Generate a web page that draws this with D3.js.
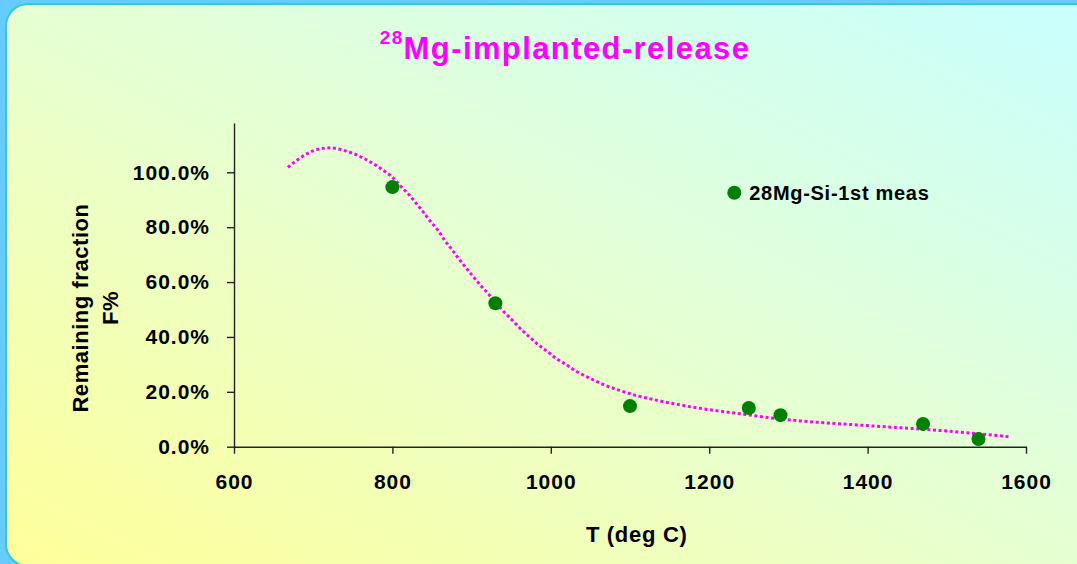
<!DOCTYPE html>
<html lang="en">
<head>
<meta charset="UTF-8">
<title>28Mg-implanted-release</title>
<script src="https://d3js.org/d3.v7.min.js"></script>
<style>
  html, body { margin: 0; padding: 0; background: #66ccff; }
  svg { display: block; font-family: Arial, "Liberation Sans", Helvetica, sans-serif; }
</style>
</head>
<body>
<svg id="chart" width="1077" height="564"></svg>
<script>
// measured points
const tempC = [800, 930, 1100, 1250, 1290, 1470, 1540];
const fraction = [0.946, 0.523, 0.148, 0.141, 0.115, 0.083, 0.028];

// fitted (dotted) curve
const fitT = [668, 680, 693, 706, 721, 736, 750, 763, 776, 788, 800, 810, 821, 830, 839, 848,
  858, 866, 875, 884, 893, 902, 912, 922, 931, 941, 952, 962, 973, 984, 996, 1007, 1020,
  1032, 1046, 1059, 1072, 1086, 1100, 1114, 1128, 1142, 1157, 1171, 1186, 1247, 1289,
  1315, 1399, 1483, 1580];
const fitF = [1.018, 1.045, 1.069, 1.084, 1.089, 1.082, 1.069, 1.052, 1.031, 1.008, 0.982,
  0.951, 0.918, 0.887, 0.855, 0.821, 0.787, 0.752, 0.719, 0.684, 0.652, 0.620, 0.586,
  0.554, 0.523, 0.491, 0.459, 0.429, 0.400, 0.372, 0.346, 0.321, 0.298, 0.275, 0.254,
  0.236, 0.220, 0.206, 0.193, 0.182, 0.173, 0.164, 0.156, 0.148, 0.141, 0.117, 0.101,
  0.094, 0.077, 0.061, 0.036];

const xTicks = [600, 800, 1000, 1200, 1400, 1600];
const yTicks = [0, 0.2, 0.4, 0.6, 0.8, 1.0];
const seriesName = "28Mg-Si-1st meas";

const svg = d3.select("#chart");
const W = 1077, H = 564;

// background panel
const defs = svg.append("defs");
const grad = defs.append("linearGradient")
  .attr("id", "bg")
  .attr("x1", "0%").attr("y1", "100%")
  .attr("x2", "100%").attr("y2", "0%");
grad.append("stop").attr("offset", "0%").attr("stop-color", "#ffff99");
grad.append("stop").attr("offset", "50%").attr("stop-color", "#e6ffd2");
grad.append("stop").attr("offset", "100%").attr("stop-color", "#c8ffff");

svg.append("rect")
  .attr("x", 6).attr("y", 4)
  .attr("width", W + 20).attr("height", H - 2)
  .attr("rx", 22).attr("ry", 22)
  .attr("fill", "url(#bg)")
  .attr("stroke", "#33cccc")
  .attr("stroke-width", 2);

const x = d3.scaleLinear().domain([600, 1600]).range([234, 1026]);
const y = d3.scaleLinear().domain([0, 1.18]).range([446.7, 122.9]);

// axes
const xAxis = svg.append("g")
  .attr("transform", `translate(0,${y(0)})`)
  .call(d3.axisBottom(x).tickValues(xTicks).tickSize(7).tickSizeOuter(0)
    .tickPadding(20).tickFormat(d3.format("d")));
const yAxis = svg.append("g")
  .attr("transform", `translate(${x(600)},0)`)
  .call(d3.axisLeft(y).tickValues(yTicks).tickSize(7).tickSizeOuter(0)
    .tickPadding(17).tickFormat(d3.format(".1%")));

[xAxis, yAxis].forEach(g => {
  g.select(".domain").attr("stroke", "#222").attr("stroke-width", 1.4);
  g.selectAll(".tick line").attr("stroke", "#222").attr("stroke-width", 1.4);
  g.selectAll(".tick text")
    .attr("fill", "#000")
    .style("font-size", "21px")
    .style("font-weight", "bold")
    .style("letter-spacing", "1px")
    .style("font-family", "Arial, 'Liberation Sans', sans-serif");
});
xAxis.selectAll(".tick text").attr("dy", "0.71em");

// fitted curve
const line = d3.line()
  .x((d, i) => x(fitT[i]))
  .y(d => y(d))
  .curve(d3.curveMonotoneX);

svg.append("path")
  .datum(fitF)
  .attr("d", line)
  .attr("fill", "none")
  .attr("stroke", "#ff00ff")
  .attr("stroke-width", 3)
  .attr("stroke-dasharray", "3 2.6");

// points
svg.append("g")
  .selectAll("circle")
  .data(tempC)
  .join("circle")
  .attr("cx", d => x(d))
  .attr("cy", (d, i) => y(fraction[i]))
  .attr("r", 7)
  .attr("fill", "#008000");

// title
const title = svg.append("text")
  .attr("x", 565).attr("y", 59)
  .attr("text-anchor", "middle")
  .attr("fill", "#ff00ff")
  .style("font-weight", "bold")
  .style("letter-spacing", "1.4px");
title.append("tspan")
  .style("font-size", "19px")
  .attr("dy", "-15")
  .text("28");
title.append("tspan")
  .style("font-size", "31px")
  .attr("dy", "15")
  .text("Mg-implanted-release");

// axis titles
svg.append("text")
  .attr("x", 636.7).attr("y", 541.7)
  .attr("text-anchor", "middle")
  .style("font-size", "22px").style("font-weight", "bold")
  .style("letter-spacing", "0.7px")
  .text("T (deg C)");

const yTitle = svg.append("text")
  .attr("transform", "translate(0,308) rotate(-90)")
  .attr("text-anchor", "middle")
  .style("font-size", "22px").style("font-weight", "bold")
  .style("letter-spacing", "0.55px");
yTitle.append("tspan").attr("x", 0).attr("y", 88).text("Remaining fraction");
yTitle.append("tspan").attr("x", 0).attr("y", 118).text("F%");

// legend
const legend = svg.append("g").attr("transform", "translate(734.3,192.7)");
legend.append("circle").attr("r", 7).attr("fill", "#008000");
legend.append("text")
  .attr("x", 15).attr("dy", "0.36em")
  .style("font-size", "20px").style("font-weight", "bold")
  .style("letter-spacing", "0.7px")
  .text(seriesName);
</script>
</body>
</html>
